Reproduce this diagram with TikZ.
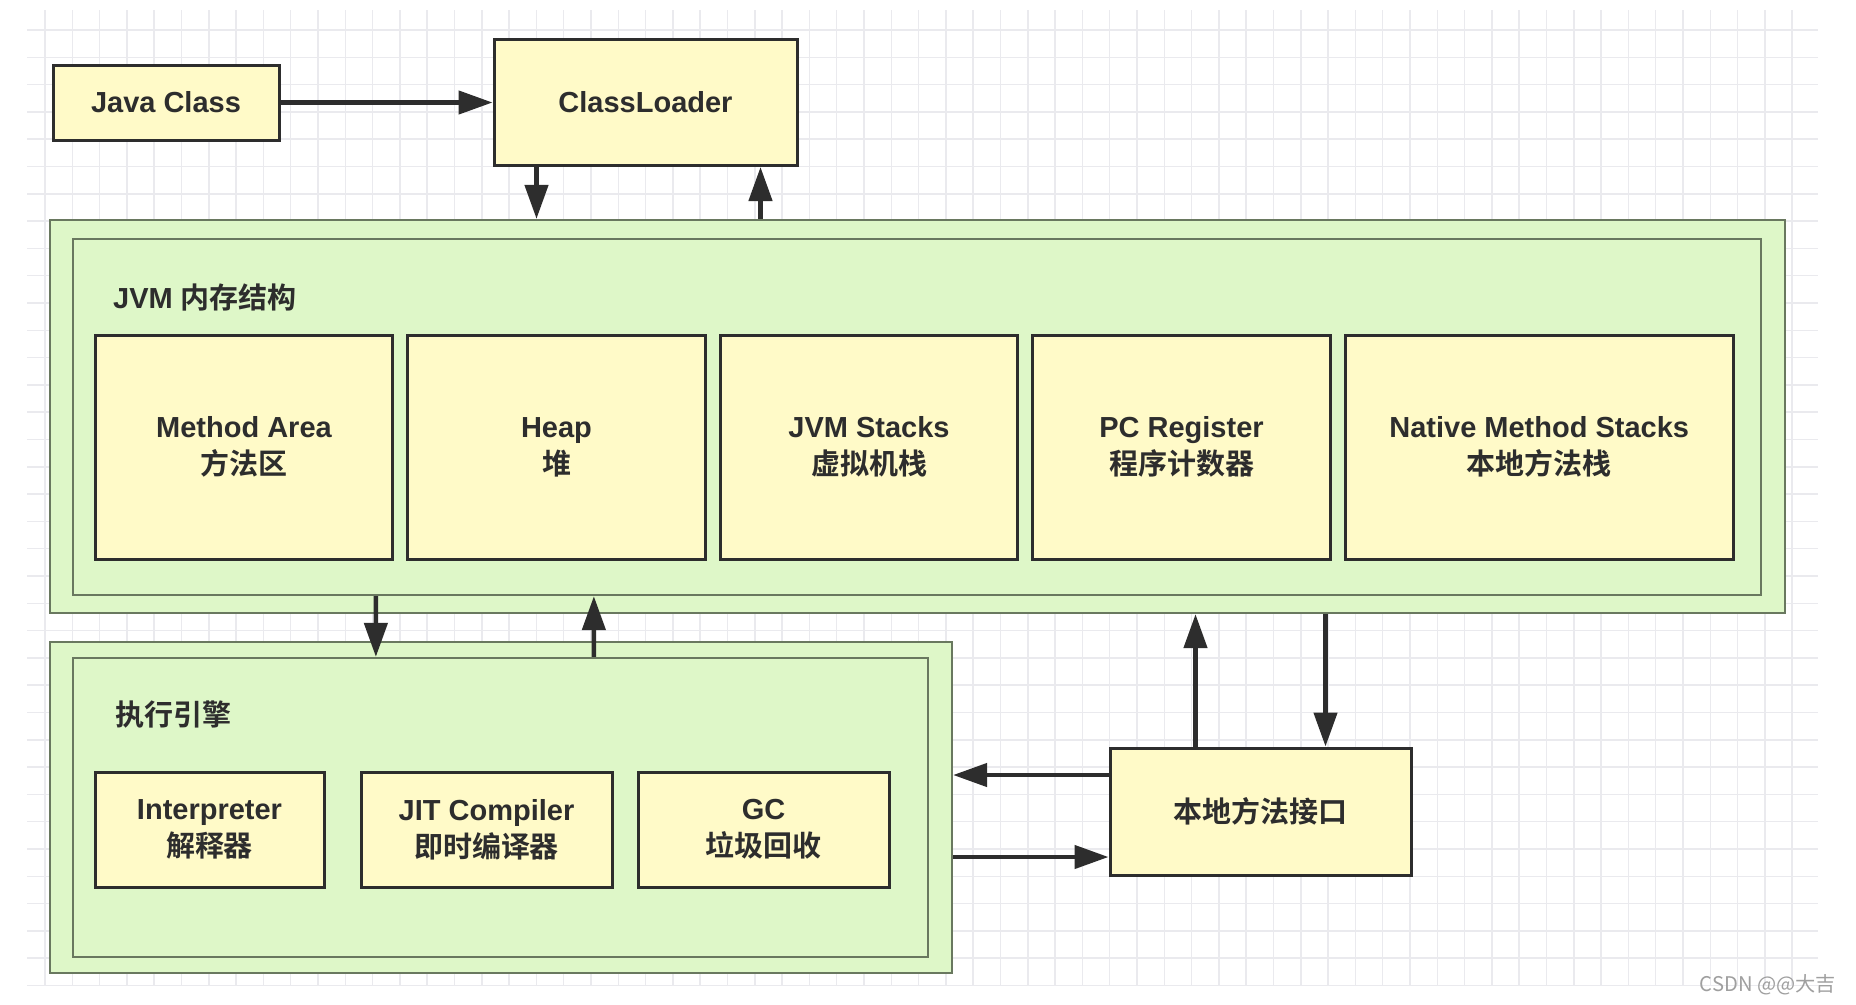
\documentclass[tikz,border=0pt]{standalone}
\usepackage{fontspec}
\setmainfont{Liberation Sans}
\newfontfamily\cjk{Noto Sans CJK SC}[BoldFont={Noto Sans CJK SC Bold}]
\usetikzlibrary{arrows.meta,positioning}
\definecolor{boxyellow}{RGB}{255,250,200}
\definecolor{areagreen}{RGB}{222,247,200}
\definecolor{areaedge}{RGB}{105,120,95}
\definecolor{ink}{RGB}{45,45,45}
\definecolor{gridgray}{RGB}{234,234,238}

\begin{document}
\begin{tikzpicture}[
    font=\bfseries\fontsize{16.5}{21}\selectfont,
    part/.style={draw=ink,line width=0.06cm,fill=boxyellow,align=center,text=ink,inner sep=0pt},
    mem/.style={part,minimum width=5.95cm,minimum height=4.48cm},
    unit/.style={part,minimum height=2.3cm},
    area/.style={draw=areaedge,line width=0.045cm,fill=areagreen,inner sep=0pt},
    flow/.style={draw=ink,line width=0.09cm,-{Triangle[length=0.68cm,width=0.46cm]}},
    gridline/.style={gridgray,line width=0.03cm}]
    \fill[white] (0,0) rectangle (37.12,-20.08);
    \useasboundingbox (0,0) rectangle (37.12,-20.08);
    % grid
    \foreach \i in {0,...,64}
        \draw[gridline] ({0.9+0.546*\i},-0.2) -- ++(0,-19.5);
    \foreach \j in {0,...,35}
        \draw[gridline] (0.54,{-0.6-0.546*\j}) -- ++(35.82,0);
    % loading
    \node[part,minimum width=4.52cm,minimum height=1.5cm] (javaclass) at (3.32,-2.05) {Java Class};
    \node[part,minimum width=6.06cm,minimum height=2.52cm] (loader) at (12.91,-2.05) {ClassLoader};
    % memory
    \node[area,minimum width=34.7cm,minimum height=7.86cm] (jvm) at (18.35,-8.33) {};
    \node[area,minimum width=33.76cm,minimum height=7.12cm] (jvmin) at (18.34,-8.34) {};
    \node[anchor=west,text=ink] (jvmlabel) at (2.14,-5.94) {JVM {\cjk 内存结构}};
    \node[mem] (ma) at (4.88,-8.94) {Method Area\\{\cjk 方法区}};
    \node[mem,right=0.24cm of ma] (heap) {Heap\\{\cjk 堆}};
    \node[mem,right=0.24cm of heap] (stk) {JVM Stacks\\{\cjk 虚拟机栈}};
    \node[mem,right=0.24cm of stk] (pc) {PC Register\\{\cjk 程序计数器}};
    \node[mem,right=0.24cm of pc,minimum width=7.76cm] (nms) {Native Method Stacks\\{\cjk 本地方法栈}};
    % engine
    \node[area,minimum width=18.04cm,minimum height=6.62cm] (engine) at (10.02,-16.15) {};
    \node[area,minimum width=17.1cm,minimum height=5.98cm] (enginein) at (10.01,-16.15) {};
    \node[anchor=west,text=ink] (enginelabel) at (2.18,-14.3) {\cjk 执行引擎};
    \node[unit,minimum width=4.58cm] (interp) at (4.19,-16.59) {Interpreter\\{\cjk 解释器}};
    \node[unit,minimum width=5.02cm] (jit) at (9.73,-16.59) {JIT Compiler\\{\cjk 即时编译器}};
    \node[unit,minimum width=5.02cm] (gc) at (15.27,-16.59) {GC\\{\cjk 垃圾回收}};
    \node[part,minimum width=6.02cm,minimum height=2.54cm] (jni) at (25.21,-16.23) {\cjk 本地方法接口};
    % arrows
    \draw[flow] (javaclass) -- (loader);
    \draw[flow] ([xshift=0.88cm]loader.south west) -- ([xshift=0.88cm]loader.south west |- jvm.north);
    \draw[flow] ([xshift=-0.76cm]loader.south east |- jvm.north) -- ([xshift=-0.76cm]loader.south east);
    \draw[flow] ([xshift=6.08cm]jvmin.south west) -- ([xshift=6.08cm]enginein.north west);
    \draw[flow] ([xshift=10.44cm]enginein.north west) -- ([xshift=10.44cm]jvmin.south west);
    \draw[flow] ([xshift=1.74cm]jni.north west) -- ([xshift=1.74cm]jni.north west |- jvm.south);
    \draw[flow] ([xshift=4.34cm]jni.north west |- jvm.south) -- ([xshift=4.34cm]jni.north west);
    \draw[flow] ([yshift=0.73cm]jni.west) -- ([yshift=0.73cm]jni.west -| engine.east);
    \draw[flow] ([yshift=-0.91cm]jni.west -| engine.east) -- ([yshift=-0.91cm]jni.west);
    \node[anchor=east,font=\mdseries\fontsize{11.5}{14}\selectfont,text=gray!75] (mark) at (36.84,-19.7) {\cjk CSDN @@大吉};
\end{tikzpicture}
\end{document}
